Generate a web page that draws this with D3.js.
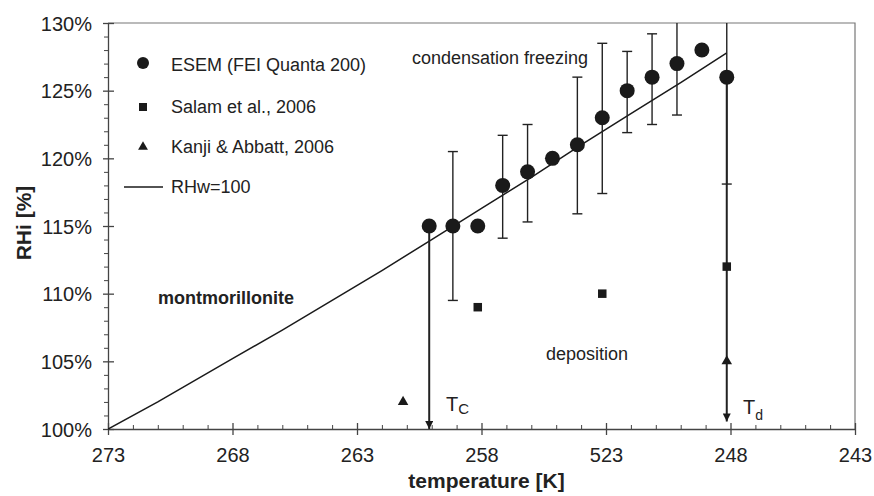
<!DOCTYPE html>
<html>
<head>
<meta charset="utf-8">
<script src="https://cdn.jsdelivr.net/npm/d3@7"></script>
<style>
  body { margin: 0; background: #fff; }
  svg text { font-family: "Liberation Sans", Arial, Helvetica, sans-serif; fill: #222; }
</style>
</head>
<body>
<div id="chart"></div>
<script>
// ESEM (FEI Quanta 200) onset points
const esemTemp = [260.1, 259.15, 258.15, 257.15, 256.15, 255.15, 254.15, 253.15, 252.15, 251.15, 250.15, 249.15, 248.15];
const esemRH   = [115, 115, 115, 118, 119, 120, 121, 123, 125, 126, 127, 128, 126];
const esemLow  = [null, 109.5, null, 114.1, 115.3, null, 115.9, 117.4, 121.9, 122.5, 123.2, null, 118.1];
const esemHigh = [null, 120.5, null, 121.7, 122.5, null, 126.0, 128.5, 127.9, 129.2, 130.6, null, 130.6];

// Salam et al., 2006
const salamTemp = [258.15, 253.15, 248.15];
const salamRH   = [109, 110, 112];

// Kanji & Abbatt, 2006
const kanjiTemp = [261.15, 248.15];
const kanjiRH   = [102, 105];

// RHw = 100 curve
const waterTemp = [273, 271, 268, 266, 264, 262, 260, 258, 256, 254, 252, 250, 248.15];
const waterRH   = [100, 102.0, 105.2, 107.3, 109.5, 111.7, 114.0, 116.3, 118.6, 121.0, 123.3, 125.6, 127.8];

// Tc / Td arrows (temperature, from RH, to RH)
const arrowTemp = [260.1, 248.15];
const arrowFrom = [115, 126];
const arrowTo   = [100, 100.55];

const xTicks = [273, 268, 263, 258, 253, 248, 243];
const xTickLabels = ["273", "268", "263", "258", "523", "248", "243"];
const yTicks = [100, 105, 110, 115, 120, 125, 130];

const legendLabels = ["ESEM (FEI Quanta 200)", "Salam et al., 2006", "Kanji & Abbatt, 2006", "RHw=100"];

const width = 874, height = 496;
const pLeft = 108, pRight = 855, pTop = 23, pBottom = 429;
const ink = "#1a1a1a";

const svg = d3.select("#chart").append("svg")
    .attr("width", width)
    .attr("height", height);

const x = d3.scaleLinear().domain([273, 243]).range([pLeft, pRight]);
const y = d3.scaleLinear().domain([100, 130]).range([pBottom, pTop]);

const defs = svg.append("defs");
defs.append("clipPath")
    .attr("id", "plot-clip")
    .append("rect")
    .attr("x", pLeft).attr("y", pTop)
    .attr("width", pRight - pLeft).attr("height", pBottom - pTop + 2);

defs.append("marker")
    .attr("id", "arrow")
    .attr("viewBox", "0 0 10 10")
    .attr("refX", 10).attr("refY", 5)
    .attr("markerUnits", "userSpaceOnUse")
    .attr("markerWidth", 9).attr("markerHeight", 8)
    .attr("orient", "auto")
    .append("path")
    .attr("d", "M0,0 L10,5 L0,10 Z")
    .attr("fill", ink);

// frame (top and right)
svg.append("path")
    .attr("d", `M${pLeft},${pTop}H${pRight}V${pBottom}`)
    .attr("fill", "none")
    .attr("stroke", "#777")
    .attr("stroke-width", 1.2);

// minor ticks x (inward)
const xMinor = d3.range(243, 274).filter(v => !xTicks.includes(v));
svg.append("g")
    .attr("transform", `translate(0,${pBottom})`)
    .call(d3.axisBottom(x).tickValues(xMinor).tickSize(-4).tickFormat(""))
    .call(g => g.select(".domain").remove())
    .selectAll("line").attr("stroke", "#444");

// minor ticks y (outward)
const yMinor = d3.range(100, 131).filter(v => !yTicks.includes(v));
svg.append("g")
    .attr("transform", `translate(${pLeft},0)`)
    .call(d3.axisLeft(y).tickValues(yMinor).tickSize(4).tickFormat(""))
    .call(g => g.select(".domain").remove())
    .selectAll("line").attr("stroke", "#444");

// x axis
const xAxis = svg.append("g")
    .attr("transform", `translate(0,${pBottom})`)
    .call(d3.axisBottom(x).tickValues(xTicks).tickSizeOuter(0)
        .tickFormat((d, i) => xTickLabels[i]));
xAxis.select(".domain").attr("stroke", "#444").attr("stroke-width", 1.3);
xAxis.selectAll(".tick line").attr("y1", -6).attr("y2", 6).attr("stroke", "#444").attr("stroke-width", 1.3);
xAxis.selectAll(".tick text")
    .attr("y", 33).attr("dy", 0)
    .attr("font-size", "20px")
    .attr("fill", "#222");

// y axis
const yAxis = svg.append("g")
    .attr("transform", `translate(${pLeft},0)`)
    .call(d3.axisLeft(y).tickValues(yTicks).tickSizeOuter(0).tickFormat(d => d + "%"));
yAxis.select(".domain").attr("stroke", "#444").attr("stroke-width", 1.3);
yAxis.selectAll(".tick line").attr("x1", -5).attr("x2", 6).attr("stroke", "#444").attr("stroke-width", 1.3);
yAxis.selectAll(".tick text")
    .attr("x", -16).attr("dy", "0.36em")
    .attr("font-size", "20px")
    .attr("fill", "#222");

svg.selectAll(".tick text").attr("font-family", "'Liberation Sans', Arial, sans-serif");

// axis titles
svg.append("text")
    .attr("x", (pLeft + pRight) / 2 + 5).attr("y", 488)
    .attr("text-anchor", "middle")
    .attr("font-size", "21px").attr("font-weight", "bold")
    .text("temperature [K]");

svg.append("text")
    .attr("transform", `translate(31,${(pTop + pBottom) / 2 - 3}) rotate(-90)`)
    .attr("text-anchor", "middle")
    .attr("font-size", "21px").attr("font-weight", "bold")
    .text("RHi [%]");

const plot = svg.append("g").attr("clip-path", "url(#plot-clip)");

// RHw=100 line
const line = d3.line().x(d => x(d[0])).y(d => y(d[1]));
plot.append("path")
    .datum(waterTemp.map((t, i) => [t, waterRH[i]]))
    .attr("d", line)
    .attr("fill", "none")
    .attr("stroke", ink)
    .attr("stroke-width", 1.5);

// error bars
const esem = esemTemp.map((t, i) => ({ t, rh: esemRH[i], lo: esemLow[i], hi: esemHigh[i] }));
const withErr = esem.filter(d => d.lo !== null);
plot.selectAll("line.err")
    .data(withErr).enter().append("line")
    .attr("class", "err")
    .attr("x1", d => x(d.t)).attr("x2", d => x(d.t))
    .attr("y1", d => y(d.lo)).attr("y2", d => y(d.hi))
    .attr("stroke", "#222").attr("stroke-width", 1.4);
["lo", "hi"].forEach(k => {
    plot.selectAll("line.cap-" + k)
        .data(withErr).enter().append("line")
        .attr("class", "cap-" + k)
        .attr("x1", d => x(d.t) - 5).attr("x2", d => x(d.t) + 5)
        .attr("y1", d => y(d[k])).attr("y2", d => y(d[k]))
        .attr("stroke", "#222").attr("stroke-width", 1.4);
});

// Tc / Td arrows
plot.selectAll("line.arrow")
    .data(arrowTemp.map((t, i) => ({ t, from: arrowFrom[i], to: arrowTo[i] })))
    .enter().append("line")
    .attr("class", "arrow")
    .attr("x1", d => x(d.t)).attr("x2", d => x(d.t))
    .attr("y1", d => y(d.from)).attr("y2", d => y(d.to))
    .attr("stroke", "#222").attr("stroke-width", 2)
    .attr("marker-end", "url(#arrow)");

// ESEM circles
plot.selectAll("circle.esem")
    .data(esem).enter().append("circle")
    .attr("class", "esem")
    .attr("cx", d => x(d.t)).attr("cy", d => y(d.rh))
    .attr("r", 7.5)
    .attr("fill", ink);

// Salam squares
plot.selectAll("rect.salam")
    .data(salamTemp.map((t, i) => ({ t, rh: salamRH[i] })))
    .enter().append("rect")
    .attr("class", "salam")
    .attr("x", d => x(d.t) - 4.25).attr("y", d => y(d.rh) - 4.25)
    .attr("width", 8.5).attr("height", 8.5)
    .attr("fill", ink);

// Kanji triangles
const tri = d3.symbol().type(d3.symbolTriangle).size(48);
plot.selectAll("path.kanji")
    .data(kanjiTemp.map((t, i) => ({ t, rh: kanjiRH[i] })))
    .enter().append("path")
    .attr("class", "kanji")
    .attr("transform", d => `translate(${x(d.t)},${y(d.rh)})`)
    .attr("d", tri)
    .attr("fill", ink);

// legend
const legY = [63, 104, 145, 186];
const leg = svg.append("g");
leg.append("circle").attr("cx", 143).attr("cy", legY[0]).attr("r", 6).attr("fill", ink);
leg.append("rect").attr("x", 139).attr("y", legY[1] + 3 - 4).attr("width", 8).attr("height", 8).attr("fill", ink);
leg.append("path").attr("transform", `translate(143,${legY[2] + 2})`)
    .attr("d", d3.symbol().type(d3.symbolTriangle).size(42)).attr("fill", ink);
leg.append("line").attr("x1", 124).attr("x2", 163)
    .attr("y1", legY[3] + 1).attr("y2", legY[3] + 1)
    .attr("stroke", ink).attr("stroke-width", 1.5);
leg.selectAll("text")
    .data(legendLabels).enter().append("text")
    .attr("x", 171)
    .attr("y", (d, i) => [71, 112.7, 153.3, 193.3][i])
    .attr("font-size", "18px")
    .text(d => d);

// annotations
svg.append("text").attr("x", 412).attr("y", 64).attr("font-size", "18px").text("condensation freezing");
svg.append("text").attr("x", 546).attr("y", 360).attr("font-size", "18px").text("deposition");
svg.append("text").attr("x", 158).attr("y", 304).attr("font-size", "18px").attr("font-weight", "bold").text("montmorillonite");

const tc = svg.append("text").attr("x", 446).attr("y", 411).attr("font-size", "20px");
tc.append("tspan").text("T");
tc.append("tspan").attr("font-size", "15px").attr("dy", 3).attr("dx", 0).text("C");

const td = svg.append("text").attr("x", 743).attr("y", 414).attr("font-size", "20px");
td.append("tspan").text("T");
td.append("tspan").attr("font-size", "14px").attr("dy", 6).attr("dx", 0).text("d");
</script>
</body>
</html>
